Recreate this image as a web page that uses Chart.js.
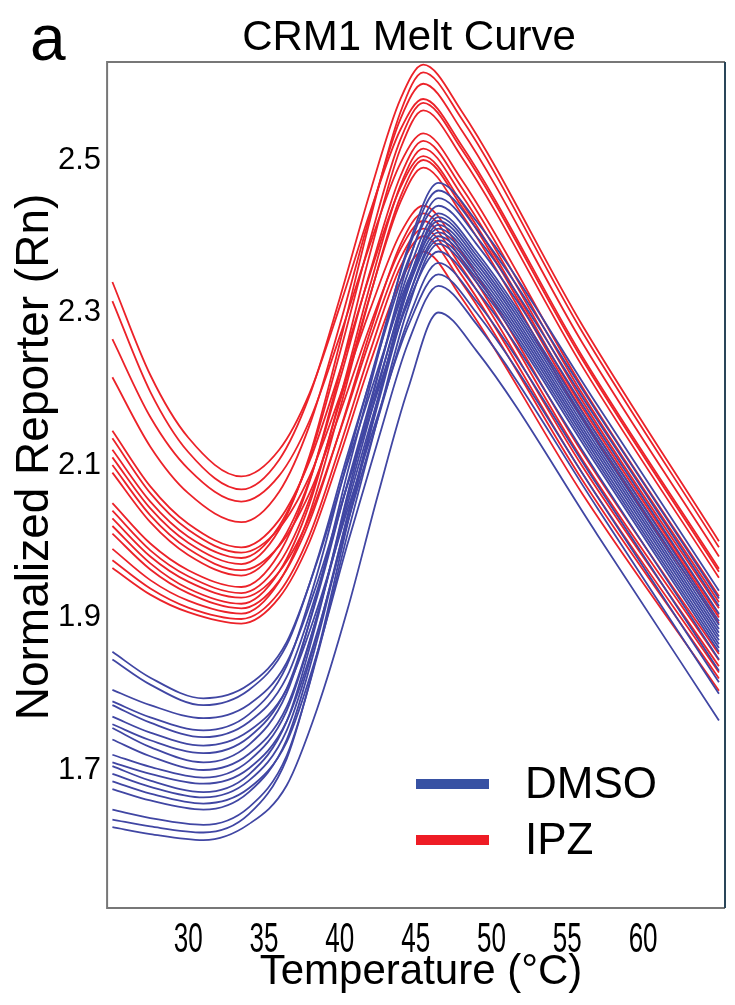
<!DOCTYPE html>
<html>
<head>
<meta charset="utf-8">
<script src="https://cdn.jsdelivr.net/npm/chart.js@4.4.1/dist/chart.umd.min.js"></script>
<style>
  html, body { margin: 0; padding: 0; background: #fff; }
  #wrap { position: relative; width: 735px; height: 1005px; }
</style>
</head>
<body>
<div id="wrap"><canvas id="meltChart"></canvas></div>
<script>
const ipzTemps = [25, 27.5, 30, 33.5, 36, 38, 40, 42, 44, 45.5, 48, 56, 65];
const dmsoTemps = [25, 27.5, 31, 34, 36.5, 38.5, 40.5, 42.5, 44.5, 46.5, 49, 57, 65];

// IPZ wells (red)
const ipzCurves = [
    [2.340, 2.218, 2.136, 2.085, 2.120, 2.194, 2.308, 2.432, 2.540, 2.580, 2.520, 2.242, 1.964],
    [2.315, 2.196, 2.117, 2.068, 2.107, 2.191, 2.319, 2.458, 2.580, 2.625, 2.565, 2.283, 2.000],
    [2.265, 2.163, 2.095, 2.052, 2.086, 2.158, 2.269, 2.390, 2.496, 2.535, 2.475, 2.202, 1.928],
    [2.215, 2.124, 2.063, 2.025, 2.065, 2.152, 2.284, 2.428, 2.554, 2.600, 2.540, 2.260, 1.980],
    [2.145, 2.072, 2.023, 1.992, 2.028, 2.105, 2.223, 2.351, 2.464, 2.505, 2.445, 2.175, 1.904],
    [2.135, 2.063, 2.015, 1.985, 2.017, 2.085, 2.190, 2.304, 2.404, 2.440, 2.380, 2.116, 1.852],
    [2.120, 2.052, 2.006, 1.978, 2.020, 2.109, 2.247, 2.396, 2.527, 2.575, 2.515, 2.238, 1.960],
    [2.110, 2.043, 1.998, 1.970, 2.015, 2.112, 2.260, 2.422, 2.563, 2.615, 2.555, 2.274, 1.992],
    [2.100, 2.034, 1.990, 1.962, 1.994, 2.063, 2.168, 2.283, 2.383, 2.420, 2.360, 2.098, 1.836],
    [2.090, 2.025, 1.982, 1.955, 1.995, 2.080, 2.212, 2.354, 2.479, 2.525, 2.465, 2.193, 1.920],
    [2.050, 1.997, 1.962, 1.940, 1.984, 2.078, 2.221, 2.378, 2.515, 2.565, 2.505, 2.229, 1.952],
    [2.040, 1.988, 1.954, 1.932, 1.971, 2.055, 2.183, 2.323, 2.445, 2.490, 2.430, 2.161, 1.892],
    [2.030, 1.980, 1.947, 1.926, 1.960, 2.032, 2.144, 2.265, 2.371, 2.410, 2.350, 2.089, 1.828],
    [2.020, 1.971, 1.938, 1.918, 1.960, 2.049, 2.187, 2.336, 2.467, 2.515, 2.455, 2.184, 1.912],
    [2.010, 1.963, 1.932, 1.912, 1.948, 2.026, 2.145, 2.275, 2.389, 2.430, 2.370, 2.107, 1.844],
    [1.990, 1.949, 1.922, 1.905, 1.947, 2.036, 2.173, 2.322, 2.452, 2.500, 2.440, 2.170, 1.900],
    [1.975, 1.938, 1.913, 1.898, 1.933, 2.008, 2.124, 2.249, 2.360, 2.400, 2.340, 2.080, 1.820],
    [1.965, 1.930, 1.907, 1.892, 1.926, 1.999, 2.112, 2.234, 2.341, 2.380, 2.320, 2.062, 1.804]
];

// DMSO wells (blue)
const dmsoCurves = [
    [1.855, 1.821, 1.794, 1.812, 1.868, 1.973, 2.102, 2.225, 2.342, 2.410, 2.360, 2.118, 1.875],
    [1.845, 1.812, 1.785, 1.805, 1.864, 1.975, 2.113, 2.244, 2.368, 2.440, 2.390, 2.148, 1.905],
    [1.805, 1.785, 1.768, 1.786, 1.841, 1.945, 2.074, 2.196, 2.313, 2.380, 2.330, 2.088, 1.845],
    [1.790, 1.769, 1.752, 1.773, 1.837, 1.957, 2.106, 2.248, 2.382, 2.460, 2.410, 2.168, 1.925],
    [1.785, 1.762, 1.743, 1.763, 1.822, 1.935, 2.074, 2.206, 2.332, 2.405, 2.355, 2.113, 1.870],
    [1.770, 1.749, 1.732, 1.751, 1.806, 1.911, 2.041, 2.165, 2.282, 2.350, 2.300, 2.058, 1.815],
    [1.760, 1.739, 1.722, 1.743, 1.807, 1.927, 2.076, 2.218, 2.352, 2.430, 2.380, 2.138, 1.895],
    [1.755, 1.730, 1.710, 1.733, 1.801, 1.930, 2.090, 2.242, 2.386, 2.470, 2.420, 2.178, 1.935],
    [1.740, 1.718, 1.700, 1.721, 1.783, 1.902, 2.048, 2.187, 2.319, 2.395, 2.345, 2.103, 1.860],
    [1.720, 1.704, 1.690, 1.712, 1.778, 1.902, 2.055, 2.201, 2.340, 2.420, 2.370, 2.128, 1.885],
    [1.710, 1.695, 1.682, 1.702, 1.764, 1.880, 2.024, 2.160, 2.290, 2.365, 2.315, 2.073, 1.830],
    [1.705, 1.686, 1.671, 1.694, 1.764, 1.897, 2.061, 2.216, 2.364, 2.450, 2.400, 2.158, 1.915],
    [1.695, 1.678, 1.664, 1.686, 1.752, 1.877, 2.032, 2.179, 2.319, 2.400, 2.350, 2.108, 1.865],
    [1.685, 1.669, 1.656, 1.676, 1.737, 1.853, 1.996, 2.131, 2.260, 2.335, 2.285, 2.043, 1.800],
    [1.675, 1.660, 1.648, 1.671, 1.740, 1.870, 2.032, 2.185, 2.331, 2.415, 2.365, 2.123, 1.880],
    [1.648, 1.637, 1.628, 1.651, 1.719, 1.849, 2.009, 2.161, 2.306, 2.390, 2.340, 2.098, 1.855],
    [1.635, 1.626, 1.618, 1.642, 1.715, 1.852, 2.022, 2.183, 2.336, 2.425, 2.375, 2.133, 1.890],
    [1.625, 1.616, 1.608, 1.629, 1.680, 1.780, 1.910, 2.060, 2.200, 2.300, 2.250, 2.008, 1.765]
];

const xTicks = [30, 35, 40, 45, 50, 55, 60];
const yTicks = [1.7, 1.9, 2.1, 2.3, 2.5];
const legendLabels = ['DMSO', 'IPZ'];

const BLUE = '#4046a3';
const RED = '#ec2229';
const FONT = '"Liberation Sans", Arial, sans-serif';

function toPoints(temps, vals) {
    return vals.map((v, i) => ({ x: temps[i], y: v }));
}

const datasets = [];
dmsoCurves.forEach(c => datasets.push({ data: toPoints(dmsoTemps, c), borderColor: BLUE }));
ipzCurves.forEach(c => datasets.push({ data: toPoints(ipzTemps, c), borderColor: RED }));

// frame, titles, narrow x tick labels and legend drawn on top of the chart
const decor = {
    id: 'decor',
    afterDraw(chart) {
        const ctx = chart.ctx;
        const a = chart.chartArea;
        ctx.save();

        ctx.lineWidth = 2;
        ctx.strokeStyle = '#777';
        ctx.beginPath();
        ctx.moveTo(a.right, a.top);
        ctx.lineTo(a.left, a.top);
        ctx.lineTo(a.left, a.bottom);
        ctx.lineTo(a.right, a.bottom);
        ctx.stroke();
        ctx.strokeStyle = '#2a4659';
        ctx.beginPath();
        ctx.moveTo(a.right, a.top);
        ctx.lineTo(a.right, a.bottom);
        ctx.stroke();

        ctx.fillStyle = '#000';
        ctx.textBaseline = 'alphabetic';

        // x tick labels, condensed like the original
        ctx.font = '42px ' + FONT;
        ctx.textAlign = 'center';
        const xs = chart.scales.x;
        xTicks.forEach(v => {
            ctx.save();
            ctx.translate(xs.getPixelForValue(v), a.bottom + 44);
            ctx.scale(0.62, 1);
            ctx.fillText(String(v), 0, 0);
            ctx.restore();
        });

        ctx.font = '64px ' + FONT;
        ctx.textAlign = 'left';
        ctx.fillText('a', 30, 60);

        ctx.font = '42px ' + FONT;
        ctx.textAlign = 'center';
        ctx.fillText('CRM1 Melt Curve', 409, 50);
        ctx.fillText('Temperature (°C)', 421, 984);

        ctx.save();
        ctx.translate(48, 457);
        ctx.rotate(-Math.PI / 2);
        ctx.font = '46px ' + FONT;
        ctx.fillText('Normalized Reporter (Rn)', 0, 0);
        ctx.restore();

        // legend
        ctx.font = '44px ' + FONT;
        ctx.textAlign = 'left';
        legendLabels.forEach((lab, i) => {
            const y = 784 + i * 56;
            ctx.strokeStyle = i === 0 ? '#3751a3' : '#ee1c25';
            ctx.lineWidth = 10;
            ctx.beginPath();
            ctx.moveTo(416, y);
            ctx.lineTo(489, y);
            ctx.stroke();
            ctx.fillText(lab, 525, y + 14);
        });

        ctx.restore();
    }
};

new Chart(document.getElementById('meltChart'), {
    type: 'line',
    data: { datasets: datasets },
    options: {
        responsive: true,
        maintainAspectRatio: false,
        animation: false,
        events: [],
        layout: { padding: { left: 52, right: 10, top: 62, bottom: 97 } },
        elements: {
            point: { radius: 0 },
            line: { borderWidth: 1.8, cubicInterpolationMode: 'monotone', fill: false }
        },
        plugins: {
            legend: { display: false },
            tooltip: { enabled: false },
            title: { display: false }
        },
        scales: {
            x: {
                type: 'linear',
                min: 24.65,
                max: 65.4,
                grid: { display: false, drawTicks: false },
                border: { display: false },
                afterBuildTicks: scale => { scale.ticks = xTicks.map(v => ({ value: v })); },
                ticks: { display: false }
            },
            y: {
                min: 1.519,
                max: 2.6285,
                grid: { display: false, drawTicks: false },
                border: { display: false },
                afterBuildTicks: scale => { scale.ticks = yTicks.map(v => ({ value: v })); },
                ticks: {
                    padding: 6,
                    color: '#000',
                    font: { family: FONT, size: 31 },
                    callback: v => v.toFixed(1)
                }
            }
        }
    },
    plugins: [decor]
});
</script>
</body>
</html>
